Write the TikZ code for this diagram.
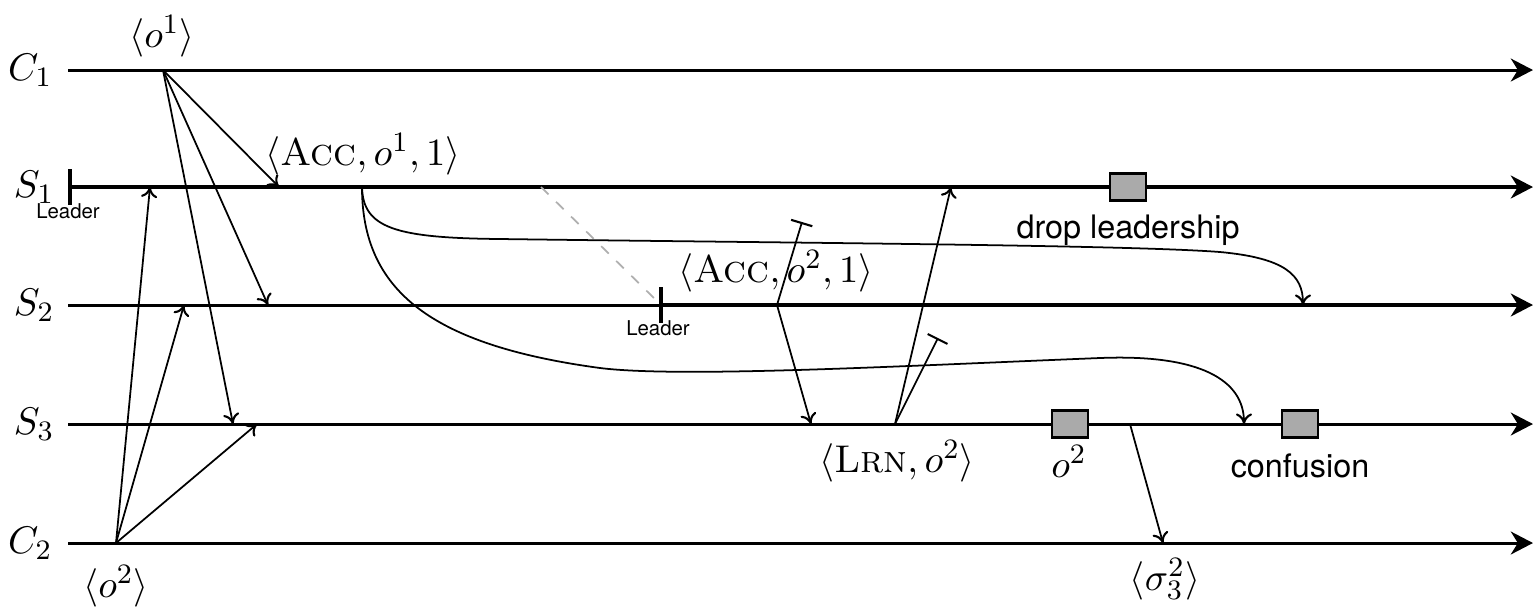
\documentclass[tikz,border=0pt]{standalone}
\usepackage{fontspec}
\newfontfamily\helv{TeX Gyre Heros}
\usetikzlibrary{arrows.meta}
\definecolor{boxgray}{RGB}{170,170,170}
\definecolor{dashgray}{RGB}{175,175,175}
\begin{document}
\begin{tikzpicture}[x=0.01cm,y=-0.01cm,
  tl/.style={line width=0.85pt,-{Stealth[length=6.3pt,width=6.5pt,inset=2pt]}},
  leadtick/.style={line width=1.4pt},
  msg/.style={line width=0.5pt,-{To[length=3pt,width=4.6pt,line width=0.6pt]}},
  blk/.style={line width=0.5pt,-{Bar[width=6.3pt,line width=0.6pt]}},
  lbl/.style={font=\fontsize{11}{13}\selectfont,inner sep=0pt},
  sans/.style={font=\helv\fontsize{9.2}{11}\selectfont,inner sep=0pt},
  tiny/.style={font=\helv\fontsize{5.8}{7}\selectfont,inner sep=0pt},
  evbox/.style={draw,line width=0.6pt,fill=boxgray,minimum width=0.36cm,minimum height=0.27cm,inner sep=0pt}]
\useasboundingbox (0,0) rectangle (1535,614);
% timeline ends
\coordinate (c1s) at (68,70);   \coordinate (c1e) at (1533,70);
\coordinate (s1s) at (70,187);  \coordinate (s1e) at (1533,187);
\coordinate (s2s) at (68,305);  \coordinate (s2l) at (661,305); \coordinate (s2e) at (1533,305);
\coordinate (s3s) at (68,424);  \coordinate (s3e) at (1533,424);
\coordinate (c2s) at (68,543);  \coordinate (c2e) at (1533,543);
% events
\coordinate (o1) at (163,70);
\coordinate (o2) at (116,543);
\coordinate (a1) at (279,187);
\coordinate (a2) at (268,305);
\coordinate (a3) at (233,424);
\coordinate (b1) at (150,187);
\coordinate (b2) at (184,305);
\coordinate (b3) at (257,424);
\coordinate (acc1) at (362,187);
\coordinate (dropin) at (1303,305);
\coordinate (confin) at (1244,424);
\coordinate (acc2) at (777,305);
\coordinate (blk1) at (802,222);
\coordinate (lrnin) at (811,424);
\coordinate (lrn) at (895,424);
\coordinate (s1in) at (951,187);
\coordinate (blk2) at (938,338);
\coordinate (sgout) at (1130,424);
\coordinate (sgin) at (1163,543);
\coordinate (dashs) at (541,187);
% labels of the timelines
\node[lbl,anchor=east] (lc1) at (53,70) {$C_1$};
\node[lbl,anchor=east] (ls1) at (55,187) {$S_1$};
\node[lbl,anchor=east] (ls2) at (55,305) {$S_2$};
\node[lbl,anchor=east] (ls3) at (55,424) {$S_3$};
\node[lbl,anchor=east] (lc2) at (53,543) {$C_2$};
% timelines
\draw[tl] (c1s) -- (c1e);
\draw[tl,line width=1.3pt] (s1s) -- (s1e);
\draw[line width=0.85pt] (s2s) -- (s2l);
\draw[tl,line width=1.3pt] (s2l) -- (s2e);
\draw[tl] (s3s) -- (s3e);
\draw[tl] (c2s) -- (c2e);
% leader ticks
\draw[leadtick] (70,169) -- (70,205);
\draw[leadtick] (661,287) -- (661,323);
\node[tiny,anchor=base] (ld1) at (68,218) {Leader};
\node[tiny,anchor=base] (ld2) at (658,335) {Leader};
\draw[dashgray,dashed,line width=0.5pt] (dashs) -- (s2l);
% client requests
\draw[msg] (o1) -- (a1);
\draw[msg] (o1) -- (a2);
\draw[msg] (o1) -- (a3);
\draw[msg] (o2) -- (b1);
\draw[msg] (o2) -- (b2);
\draw[msg] (o2) -- (b3);
% long messages from acc1
\draw[msg] (acc1) .. controls (363,228) and (395,238) .. (500,239)
  .. controls (800,243) and (1130,245) .. (1220,252)
  .. controls (1285,258) and (1303,275) .. (dropin);
\draw[msg] (acc1) .. controls (362,290) and (430,345) .. (600,368)
  .. controls (680,378) and (900,366) .. (1100,358)
  .. controls (1200,354) and (1244,380) .. (confin);
% acc2 messages
\draw[blk] (acc2) -- (blk1);
\draw[msg] (acc2) -- (lrnin);
\draw[msg] (lrn) -- (s1in);
\draw[blk] (lrn) -- (blk2);
\draw[msg] (sgout) -- (sgin);
% boxes
\node[evbox] (box1) at (1128,187) {};
\node[evbox] (box2) at (1070,424) {};
\node[evbox] (box3) at (1300,424) {};
% text labels
\node[lbl,anchor=south] (to1) at (162,58) {$\langle o^1\rangle$};
\node[lbl,anchor=north] (to2) at (116,565) {$\langle o^2\rangle$};
\node[lbl,anchor=south] (tacc1) at (363,176) {$\langle \textsc{Acc}, o^1, 1\rangle$};
\node[lbl,anchor=south] (tacc2) at (776,293) {$\langle \textsc{Acc}, o^2, 1\rangle$};
\node[lbl,anchor=north] (tlrn) at (897,440) {$\langle \textsc{Lrn}, o^2\rangle$};
\node[lbl,anchor=base] (tsg) at (1165,590) {$\langle \sigma_3^2\rangle$};
\node[lbl,anchor=base] (to2b) at (1069,477) {$o^2$};
\node[sans,anchor=base] (tdrop) at (1128,238) {drop leadership};
\node[sans,anchor=base] (tconf) at (1300,477) {confusion};
\end{tikzpicture}
\end{document}
